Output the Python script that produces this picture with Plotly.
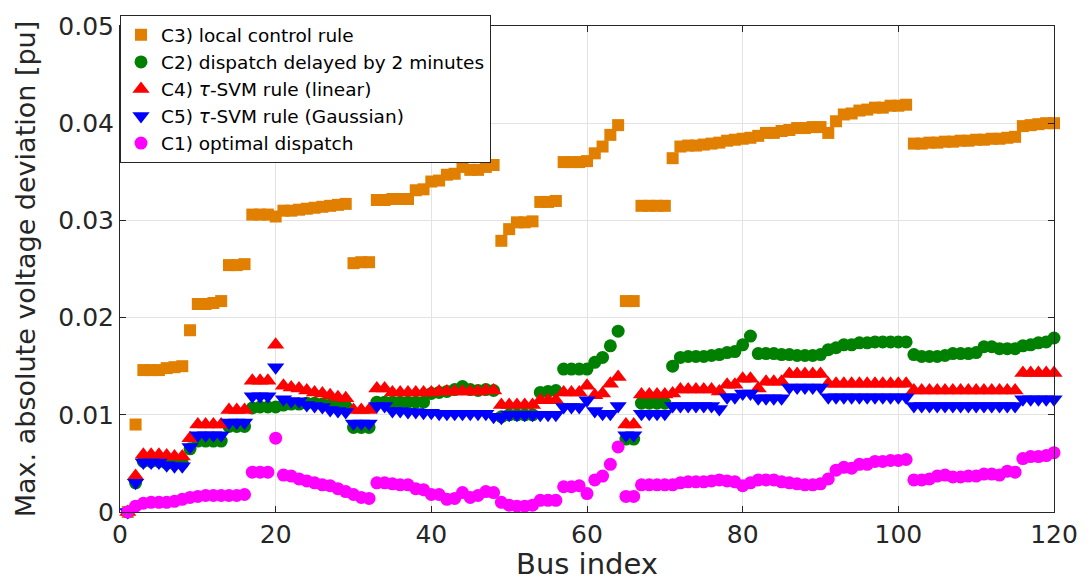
import plotly.graph_objects as go

# Bus indices 1..120
bus = list(range(1, 121))

# C3) local control rule
c3_local = [
    0.0, 0.009, 0.0146, 0.0146, 0.0146, 0.0148, 0.0149, 0.015, 0.0187, 0.0214,
    0.0214, 0.0215, 0.0217, 0.0254, 0.0254, 0.0255, 0.0306, 0.0306, 0.0306, 0.0304,
    0.031, 0.031, 0.0311, 0.0312, 0.0313, 0.0314, 0.0315, 0.0316, 0.0317, 0.0256,
    0.0257, 0.0257, 0.0321, 0.0321, 0.0322, 0.0322, 0.0322, 0.0331, 0.0332, 0.034,
    0.0341, 0.0347, 0.0348, 0.0355, 0.0352, 0.0352, 0.0355, 0.0357, 0.0279, 0.0291,
    0.0298, 0.0298, 0.0299, 0.0319, 0.0319, 0.032, 0.036, 0.036, 0.036, 0.0361,
    0.0369, 0.0376, 0.0388, 0.0398, 0.0217, 0.0217, 0.0315, 0.0315, 0.0315, 0.0315,
    0.0364, 0.0376, 0.0377, 0.0377, 0.0378, 0.0379, 0.038, 0.0382, 0.0383, 0.0384,
    0.0385, 0.0387, 0.039, 0.039, 0.0392, 0.0393, 0.0395, 0.0395, 0.0396, 0.0396,
    0.039, 0.0402, 0.0409, 0.041, 0.0413, 0.0414, 0.0416, 0.0416, 0.0418, 0.0418,
    0.0419, 0.0379, 0.0379, 0.038, 0.038, 0.0381, 0.0381, 0.0382, 0.0382, 0.0383,
    0.0383, 0.0384, 0.0384, 0.0385, 0.0386, 0.0397, 0.0398, 0.0399, 0.04, 0.04,
]

# C2) dispatch delayed by 2 minutes
c2_delayed = [
    0.0, 0.003, 0.0052, 0.0052, 0.0052, 0.005, 0.005, 0.005, 0.0065, 0.0073,
    0.0073, 0.0073, 0.0073, 0.0088, 0.0088, 0.0088, 0.0107, 0.0108, 0.0108, 0.0108,
    0.011, 0.0111, 0.0111, 0.0112, 0.0112, 0.0111, 0.011, 0.011, 0.0109, 0.0087,
    0.0087, 0.0087, 0.0113, 0.0113, 0.0113, 0.0113, 0.0113, 0.0113, 0.0113, 0.0122,
    0.0123, 0.0124, 0.0126, 0.0129, 0.0126, 0.0125, 0.0126, 0.0125, 0.0098, 0.01,
    0.01, 0.01, 0.01, 0.0123, 0.0124, 0.0125, 0.0147, 0.0147, 0.0147, 0.0147,
    0.0154, 0.0159, 0.0171, 0.0186, 0.0075, 0.0075, 0.0112, 0.0112, 0.0112, 0.0112,
    0.015, 0.0159, 0.016, 0.016, 0.016, 0.0161, 0.0162, 0.0164, 0.0165, 0.0172,
    0.0181, 0.0163, 0.0163, 0.0163, 0.0162, 0.0162, 0.0161, 0.0161, 0.0161, 0.0162,
    0.0167, 0.0169, 0.0172, 0.0172, 0.0174, 0.0174, 0.0175, 0.0175, 0.0175, 0.0175,
    0.0175, 0.0162, 0.016, 0.016, 0.016, 0.0161, 0.0163, 0.0163, 0.0163, 0.0164,
    0.017, 0.017, 0.0168, 0.0168, 0.0168, 0.0171, 0.0172, 0.0174, 0.0175, 0.0179,
]

# C4) tau-SVM rule (linear)
c4_linear = [
    0.0, 0.0037, 0.0059, 0.0059, 0.0059, 0.0058, 0.0057, 0.0057, 0.0076, 0.009,
    0.009, 0.009, 0.009, 0.0105, 0.0105, 0.0105, 0.0135, 0.0135, 0.0135, 0.0172,
    0.013, 0.0128, 0.0127, 0.0125, 0.0123, 0.0122, 0.012, 0.0118, 0.0117, 0.0105,
    0.0105, 0.0105, 0.0127, 0.0127, 0.0123, 0.0123, 0.0123, 0.0123, 0.0123, 0.0123,
    0.0124, 0.0124, 0.0124, 0.0124, 0.0124, 0.0124, 0.0125, 0.0125, 0.011, 0.011,
    0.011, 0.011, 0.011, 0.0115, 0.0115, 0.0115, 0.0123, 0.0123, 0.0123, 0.013,
    0.012, 0.0122, 0.0132, 0.0139, 0.009, 0.009, 0.0121, 0.0121, 0.0121, 0.0121,
    0.0122, 0.0126, 0.0126, 0.0126, 0.0126, 0.0126, 0.0124, 0.0131, 0.0131, 0.0137,
    0.0137, 0.0127, 0.0134, 0.0134, 0.0134, 0.0142, 0.0142, 0.0142, 0.0142, 0.0142,
    0.0132, 0.0132, 0.0132, 0.0132, 0.0132, 0.0132, 0.0132, 0.0132, 0.0132, 0.0132,
    0.0132, 0.0125, 0.0125, 0.0125, 0.0125, 0.0125, 0.0125, 0.0125, 0.0125, 0.0125,
    0.0125, 0.0125, 0.0125, 0.0125, 0.0125, 0.0143, 0.0143, 0.0143, 0.0143, 0.0143,
]

# C5) tau-SVM rule (Gaussian)
c5_gaussian = [
    0.0, 0.003, 0.0051, 0.0051, 0.0051, 0.0048, 0.0047, 0.0047, 0.0067, 0.0079,
    0.0079, 0.0079, 0.0079, 0.0092, 0.0092, 0.0092, 0.0119, 0.0119, 0.0119, 0.0149,
    0.0116, 0.0114, 0.0114, 0.011, 0.0109, 0.0108, 0.0105, 0.0104, 0.0103, 0.0091,
    0.0091, 0.0091, 0.0109, 0.0109, 0.0104, 0.0104, 0.0103, 0.0103, 0.0102, 0.0102,
    0.0101, 0.0101, 0.0101, 0.0101, 0.0101, 0.0101, 0.0101, 0.0098, 0.0097, 0.01,
    0.01, 0.01, 0.01, 0.01, 0.01, 0.01, 0.0108, 0.0108, 0.0108, 0.0115,
    0.0104, 0.0101, 0.0101, 0.0109, 0.0079, 0.0079, 0.0101, 0.0101, 0.0101, 0.0101,
    0.0109, 0.0109, 0.0109, 0.0109, 0.0109, 0.0109, 0.0106, 0.0118, 0.0118, 0.0122,
    0.0122, 0.0117, 0.0117, 0.0117, 0.0117, 0.0128, 0.0128, 0.0128, 0.0128, 0.0128,
    0.0118, 0.0118, 0.0118, 0.0118, 0.0118, 0.0118, 0.0118, 0.0118, 0.0118, 0.0118,
    0.0118, 0.0109, 0.0109, 0.0109, 0.0109, 0.0109, 0.0109, 0.0109, 0.0109, 0.0109,
    0.0109, 0.0109, 0.0109, 0.0109, 0.0109, 0.0116, 0.0116, 0.0116, 0.0116, 0.0116,
]

# C1) optimal dispatch
c1_optimal = [
    0.0, 0.0006, 0.0009, 0.001, 0.001, 0.001, 0.0011, 0.0013, 0.0015, 0.0016,
    0.0017, 0.0017, 0.0017, 0.0017, 0.0017, 0.0018, 0.0041, 0.0041, 0.0041, 0.0076,
    0.0038, 0.0037, 0.0034, 0.0032, 0.003, 0.0028, 0.0027, 0.0024, 0.0021, 0.0018,
    0.0015, 0.0014, 0.003, 0.003, 0.0029, 0.0028, 0.0028, 0.0024, 0.0023, 0.0018,
    0.0018, 0.0013, 0.0014, 0.002, 0.0015, 0.0017, 0.0021, 0.002, 0.001, 0.0007,
    0.0006, 0.0006, 0.0007, 0.0012, 0.0012, 0.0012, 0.0026, 0.0026, 0.0027, 0.0019,
    0.0033, 0.0037, 0.0049, 0.0067, 0.0016, 0.0016, 0.0028, 0.0028, 0.0028, 0.0028,
    0.0028, 0.003, 0.0031, 0.0031, 0.0031, 0.0032, 0.0033, 0.0032, 0.0031, 0.0027,
    0.003, 0.0033, 0.0033, 0.0033, 0.0031, 0.003, 0.0029, 0.0028, 0.0028, 0.0029,
    0.0034, 0.0043, 0.0046, 0.0045, 0.0049, 0.0049, 0.0052, 0.0052, 0.0053, 0.0053,
    0.0054, 0.0033, 0.0033, 0.0034, 0.0037, 0.0038, 0.0036, 0.0036, 0.0037, 0.0037,
    0.0039, 0.0039, 0.0038, 0.0042, 0.0041, 0.0055, 0.0057, 0.0057, 0.0058, 0.0061,
]

x_ticks = [0, 20, 40, 60, 80, 100, 120]
y_ticks = [0, 0.01, 0.02, 0.03, 0.04, 0.05]
y_tick_labels = ["0", "0.01", "0.02", "0.03", "0.04", "0.05"]

series = [
    ("C3) local control rule", c3_local, "square", "#E07F00", 12),
    ("C2) dispatch delayed by 2 minutes", c2_delayed, "circle", "#008000", 13),
    ("C4) <i>τ</i>-SVM rule (linear)", c4_linear, "triangle-up", "#FF0000", 15),
    ("C5) <i>τ</i>-SVM rule (Gaussian)", c5_gaussian, "triangle-down", "#0000FF", 15),
    ("C1) optimal dispatch", c1_optimal, "circle", "#FF00FF", 13),
]

fig = go.Figure()
for name, vals, sym, col, size in series:
    fig.add_trace(go.Scatter(
        x=bus, y=vals, mode="markers", name=name,
        marker=dict(symbol=sym, color=col, size=size, line=dict(width=0)),
        cliponaxis=False,
    ))

font_family = "DejaVu Sans, Verdana, sans-serif"
axis_common = dict(
    showline=True, linecolor="#262626", linewidth=1, mirror="ticks",
    ticks="inside", ticklen=6, tickcolor="#262626",
    showgrid=True, gridcolor="#E3E3E3", gridwidth=1,
    zeroline=False, tickfont=dict(size=25, color="#262626", family=font_family),
)

fig.update_layout(
    width=1090, height=581,
    margin=dict(l=120, r=30, t=17, b=64),
    paper_bgcolor="white", plot_bgcolor="white",
    font=dict(family=font_family, color="#262626"),
    showlegend=True,
    legend=dict(
        x=0.0, y=1.022, xanchor="left", yanchor="top",
        bgcolor="white", bordercolor="#262626", borderwidth=1,
        font=dict(size=18.5, color="#000000", family=font_family),
        tracegroupgap=0, itemsizing="trace",
    ),
    xaxis=dict(
        range=[0, 120], tickvals=x_ticks,
        title=dict(text="Bus index", font=dict(size=29, color="#262626"), standoff=0),
        **axis_common,
    ),
    yaxis=dict(
        range=[0, 0.05], tickvals=y_ticks, ticktext=y_tick_labels,
        title=dict(text="Max. absolute voltage deviation [pu]", font=dict(size=27, color="#262626"), standoff=14),
        **axis_common,
    ),
)

fig.write_html("out.html")
